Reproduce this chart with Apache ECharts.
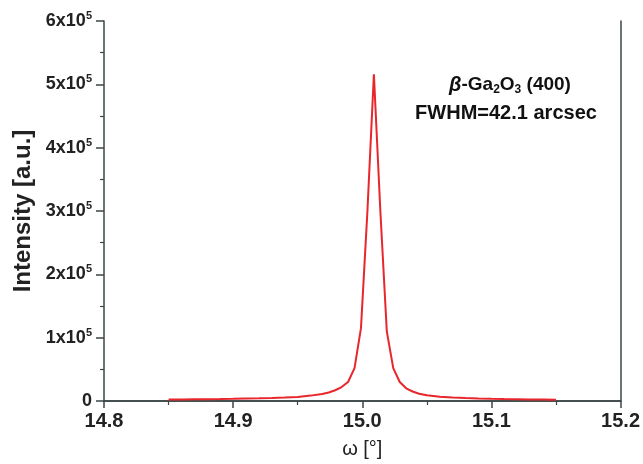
<!DOCTYPE html>
<html>
<head>
<meta charset="utf-8">
<script src="https://cdn.jsdelivr.net/npm/echarts@6/dist/echarts.min.js"></script>
<style>
  html, body { margin: 0; padding: 0; background: #fff; }
  #main { width: 643px; height: 464px; }
</style>
</head>
<body>
<div id="main"></div>
<script>
// rocking curve, omega in degrees
const omega = [
  14.85, 14.86, 14.87, 14.88, 14.89, 14.90, 14.91, 14.92, 14.93, 14.94,
  14.95, 14.96, 14.969, 14.974, 14.979, 14.984, 14.989, 14.994, 14.999, 15.004,
  15.009,
  15.014, 15.019, 15.024, 15.029, 15.034, 15.039, 15.044, 15.05, 15.06,
  15.07, 15.08, 15.09, 15.10, 15.11, 15.12, 15.13, 15.14, 15.15
]
const intensity = [
  2400, 2500, 2700, 2900, 3100, 3400, 3800, 4200, 4800, 5500,
  6500, 8500, 11000, 13500, 17000, 22000, 30000, 52000, 115000, 300000,
  516000,
  300000, 110000, 52000, 30000, 20000, 15000, 11500, 9000, 6800,
  5500, 4700, 4000, 3500, 3100, 2800, 2500, 2300, 2000
]
const yTickLabels = ['0', '1', '2', '3', '4', '5', '6']

const axisColor = '#3b4646'
const font = 'Liberation Sans, Arial, sans-serif'

const chart = echarts.init(document.getElementById('main'))
chart.setOption({
  animation: false,
  grid: { left: 104, right: 21, top: 21, bottom: 62 },
  xAxis: [
    {
      type: 'value',
      min: 14.8,
      max: 15.2,
      interval: 0.1,
      name: 'ω [°]',
      nameLocation: 'middle',
      nameGap: 38,
      nameTextStyle: { fontFamily: font, fontSize: 20, color: '#222' },
      axisLine: { lineStyle: { color: axisColor, width: 1.5 } },
      axisTick: { inside: false, length: 7, lineStyle: { color: axisColor, width: 1.5 } },
      minorTick: { show: true, splitNumber: 2, length: 4, lineStyle: { color: axisColor, width: 1.2 } },
      splitLine: { show: false },
      axisLabel: {
        inside: false,
        fontFamily: font, fontSize: 20, fontWeight: 'bold', color: '#222', margin: 10,
        formatter: v => v.toFixed(1)
      }
    },
    {
      type: 'value',
      position: 'top',
      min: 14.8,
      max: 15.2,
      axisLine: { show: true, lineStyle: { color: axisColor, width: 1.5 } },
      axisTick: { show: false },
      axisLabel: { show: false },
      splitLine: { show: false }
    }
  ],
  yAxis: [
    {
      type: 'value',
      position: 'left',
      min: 0,
      max: 600000,
      interval: 100000,
      name: 'Intensity [a.u.]',
      nameLocation: 'middle',
      nameGap: 66,
      nameTextStyle: { fontFamily: font, fontSize: 24, fontWeight: 'bold', color: '#222' },
      axisLine: { show: true, lineStyle: { color: axisColor, width: 1.5 } },
      axisTick: { inside: false, length: 8, lineStyle: { color: axisColor, width: 1.5 } },
      minorTick: { show: true, splitNumber: 2, length: 4, lineStyle: { color: axisColor, width: 1.2 } },
      splitLine: { show: false },
      axisLabel: {
        inside: false,
        margin: 12,
        formatter: (v) => {
          const t = yTickLabels[Math.round(v / 100000)]
          return t === '0' ? '{a|0}' : '{a|' + t + 'x10}{s|5}'
        },
        rich: {
          a: { fontFamily: font, fontSize: 18, fontWeight: 'bold', color: '#222' },
          s: { fontFamily: font, fontSize: 11, fontWeight: 'bold', color: '#222', padding: [0, 0, 10, 0] }
        }
      }
    },
    {
      type: 'value',
      position: 'right',
      min: 0,
      max: 600000,
      axisLine: { show: true, lineStyle: { color: axisColor, width: 1.5 } },
      axisTick: { show: false },
      axisLabel: { show: false },
      splitLine: { show: false }
    }
  ],
  graphic: [
    {
      type: 'text',
      x: 510,
      y: 85,
      style: {
        align: 'center', verticalAlign: 'middle',
        text: '{i|β}{b|-Ga}{sub|2}{b|O}{sub|3}{b| (400)}',
        rich: {
          i: { fontFamily: font, fontSize: 20, fontStyle: 'italic', fontWeight: 'bold', fill: '#111' },
          b: { fontFamily: font, fontSize: 19, fontWeight: 'bold', fill: '#111' },
          sub: { fontFamily: font, fontSize: 12, fontWeight: 'bold', fill: '#111', padding: [10, 0, 0, 0] }
        }
      }
    },
    {
      type: 'text',
      x: 506,
      y: 113,
      style: {
        align: 'center', verticalAlign: 'middle',
        text: 'FWHM=42.1 arcsec',
        font: 'bold 20px ' + font,
        fill: '#111'
      }
    }
  ],
  series: [
    {
      type: 'line',
      data: omega.map((w, i) => [w, intensity[i]]),
      showSymbol: false,
      lineStyle: { color: '#e8262b', width: 2 },
      z: 3
    }
  ]
})
</script>
</body>
</html>
